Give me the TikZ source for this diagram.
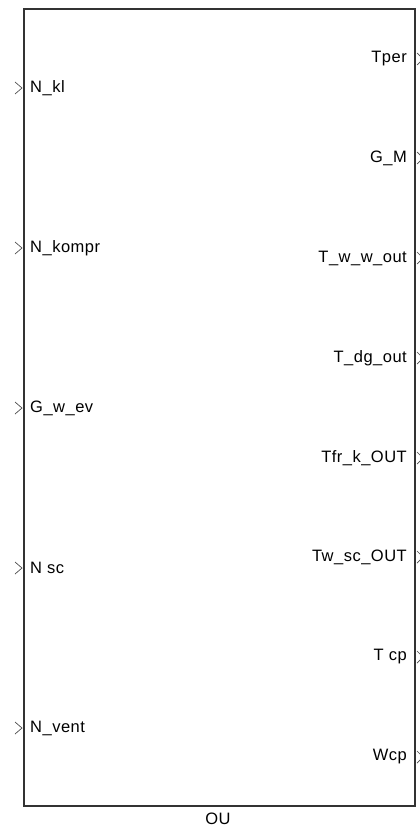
\documentclass[tikz,border=0pt]{standalone}
\usepackage{fontspec}
\setmainfont{Liberation Sans}[LetterSpace=3]
\tikzset{
  port/.style={black!70, line width=0.7pt},
  portlabel/.style={inner sep=0pt, font=\fontsize{16.5}{18}\selectfont}
}
\begin{document}
\begin{tikzpicture}[x=1pt,y=-1pt]
        \useasboundingbox (0,0) rectangle (420,832);
        % block
        \draw [line width=1.8pt, black!80] (24,9) rectangle (415,806);
        \node [portlabel] (ou) at (218,819) {OU};
        % inputs
        \foreach \y/\t [count=\i] in {88/N\_kl, 248/N\_kompr, 408/G\_w\_ev, 568/N sc, 728/N\_vent} {
            \node [portlabel, anchor=west] (in\i) at (30,\y) {\t};
            \draw [port] (15,\y-6) -- (22,\y) -- (15,\y+6);
        }
        % outputs
        \foreach \y/\t [count=\i] in {59/Tper, 158/G\_M, 258/T\_w\_w\_out, 358/T\_dg\_out, 458/Tfr\_k\_OUT, 557/Tw\_sc\_OUT, 657/T cp, 757/Wcp} {
            \node [portlabel, anchor=east] (out\i) at (407,\y) {\t};
            \draw [port] (417,\y-6) -- (423,\y) -- (417,\y+6);
        }
    \end{tikzpicture}
\end{document}
